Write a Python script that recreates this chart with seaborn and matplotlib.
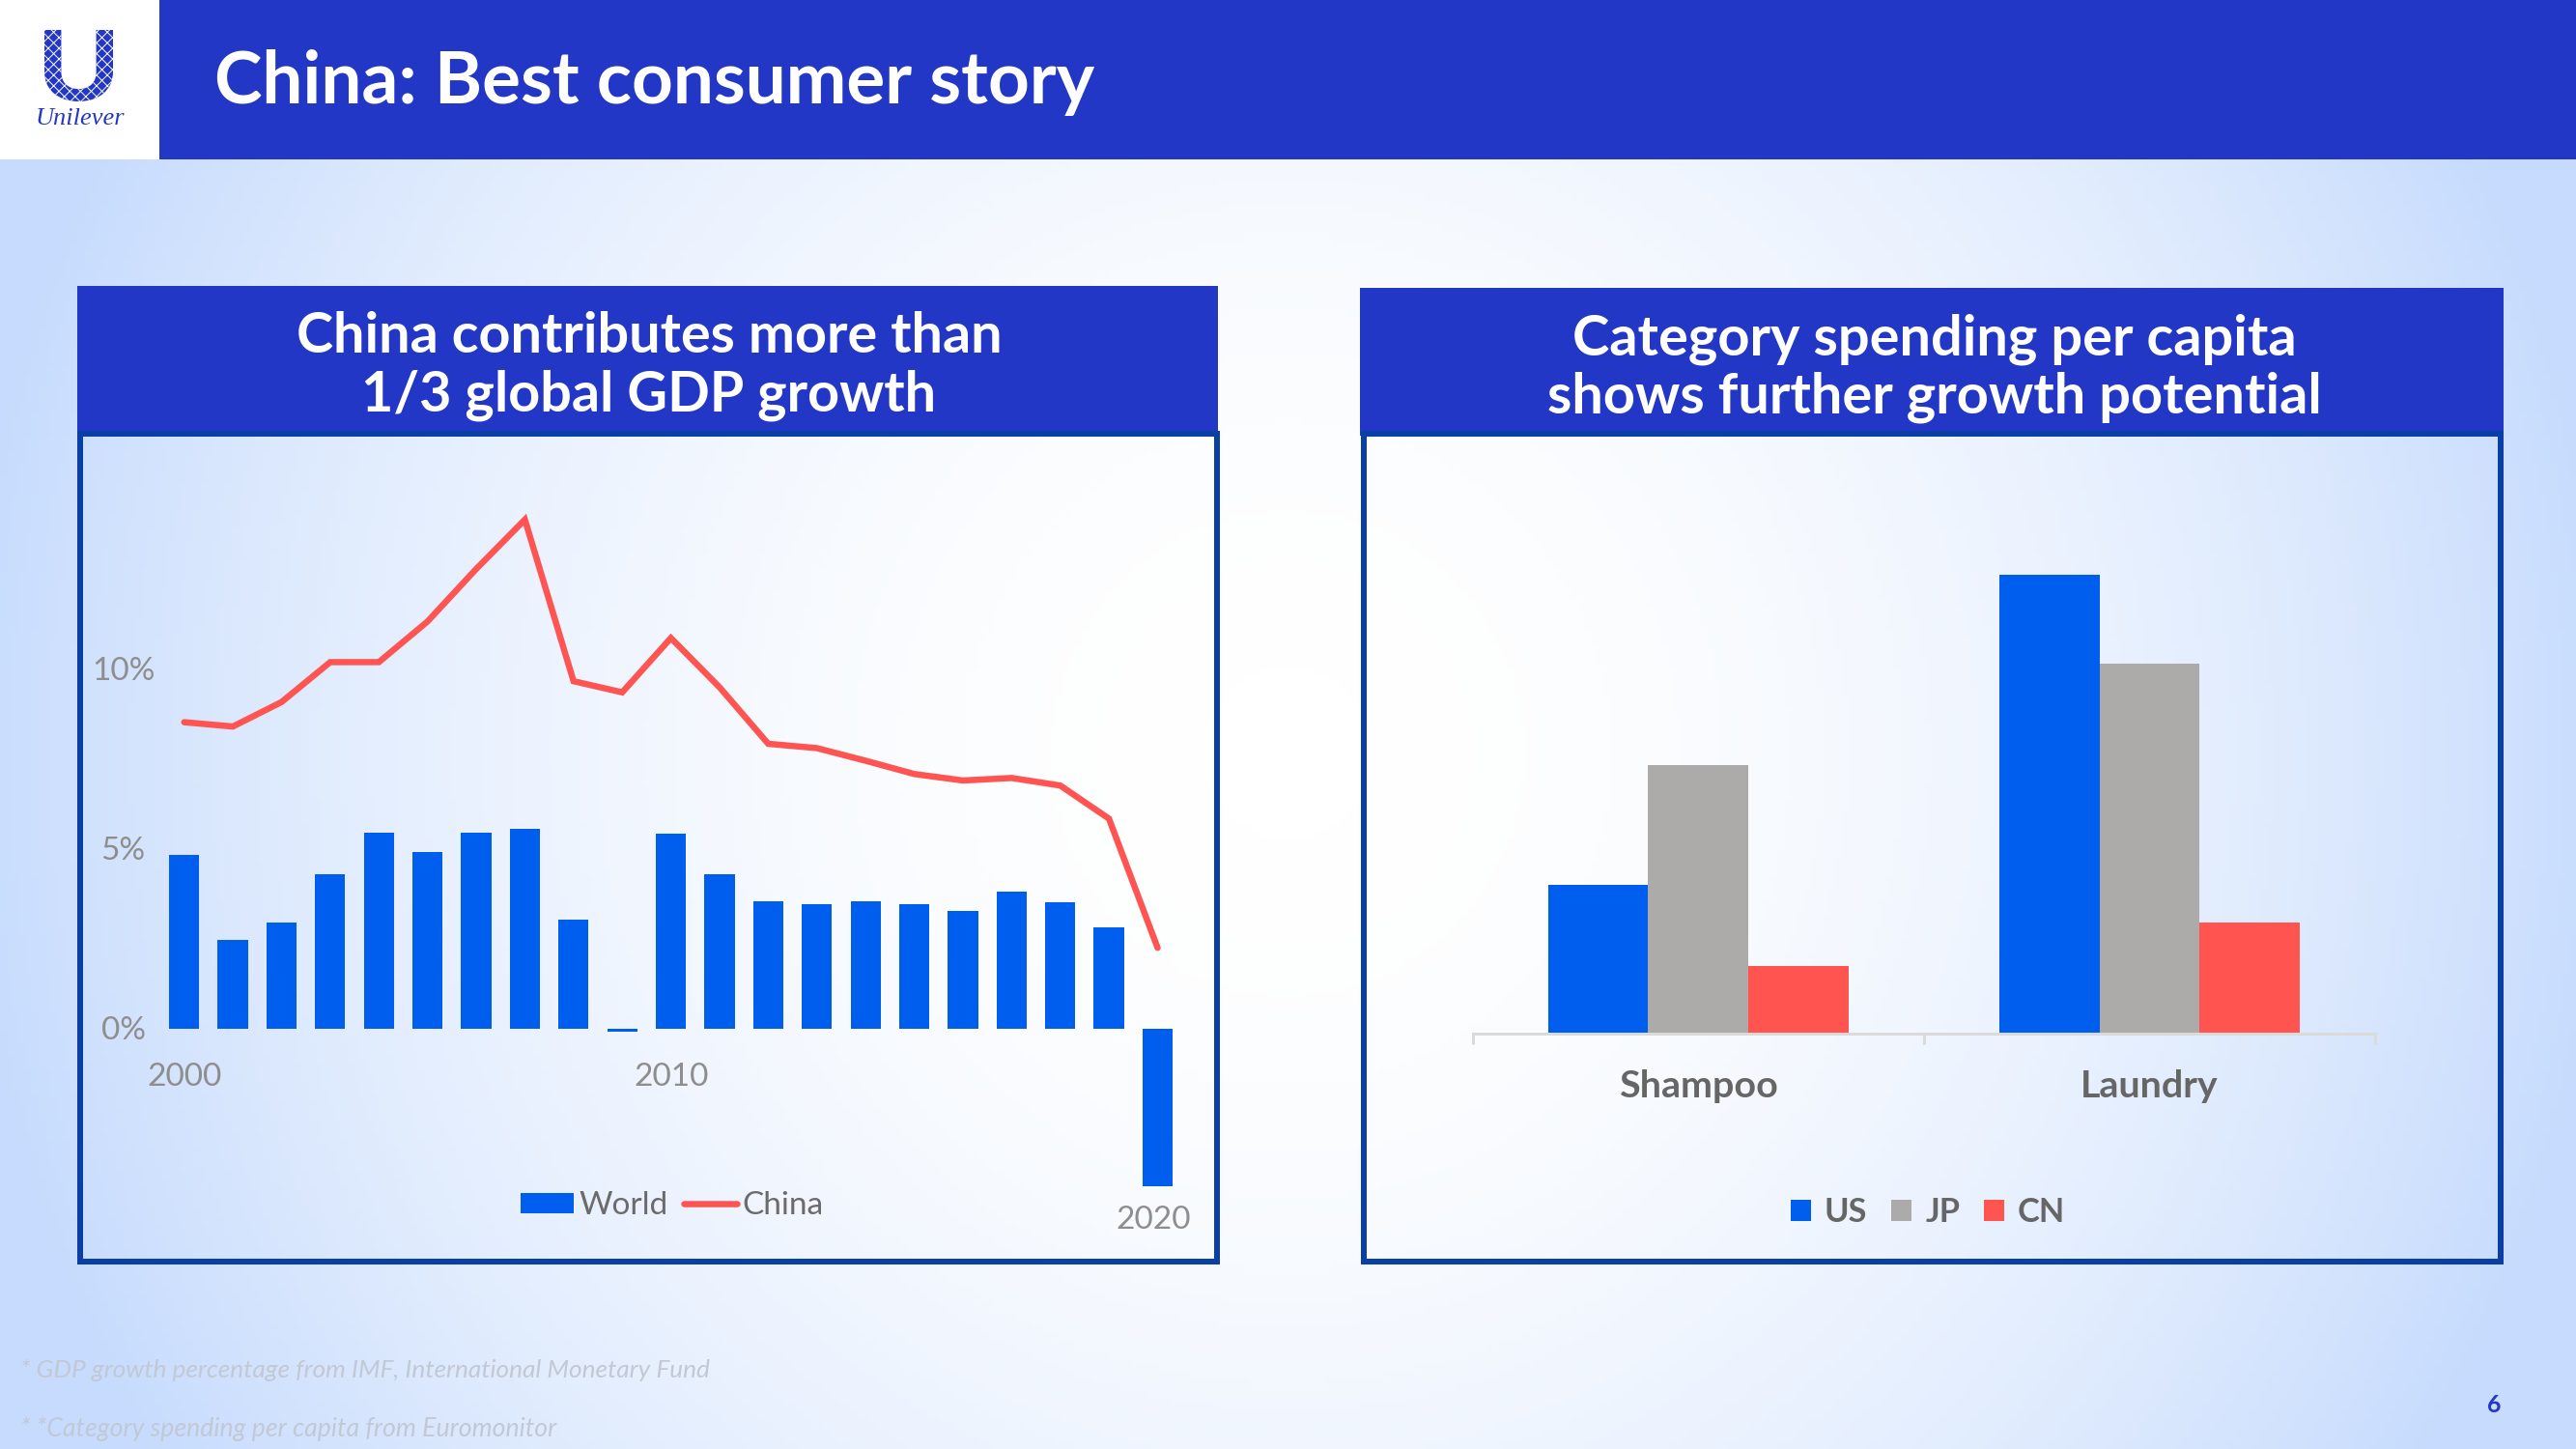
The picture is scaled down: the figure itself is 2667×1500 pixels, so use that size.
import numpy as np
import pandas as pd
import matplotlib
matplotlib.use("Agg")
import matplotlib.pyplot as plt
from matplotlib.colors import LinearSegmentedColormap
from matplotlib.patches import Rectangle, PathPatch
from matplotlib.textpath import TextPath
from matplotlib.font_manager import FontProperties
from matplotlib.transforms import Affine2D, ScaledTranslation
import seaborn as sns

# ---------- data ----------
years = list(range(2000, 2021))
world_growth = [4.83, 2.47, 2.96, 4.30, 5.44, 4.91, 5.46, 5.55, 3.04, -0.08, 5.41,
                4.30, 3.54, 3.46, 3.54, 3.45, 3.27, 3.81, 3.52, 2.81, -4.38]
china_growth = [8.52, 8.40, 9.08, 10.19, 10.19, 11.32, 12.78, 14.15, 9.66, 9.35, 10.86,
                9.49, 7.92, 7.80, 7.45, 7.08, 6.90, 6.97, 6.76, 5.84, 2.25]
y_ticks = [0, 5, 10]
y_tick_labels = ["0%", "5%", "10%"]
categories = ["Shampoo", "Laundry"]
countries = ["US", "JP", "CN"]
us_spend = [15.4, 47.5]
jp_spend = [27.8, 38.3]
cn_spend = [7.0, 11.5]

TITLE = "China: Best consumer story"
LEFT_HEAD = "China contributes more than\n1/3 global GDP growth"
RIGHT_HEAD = "Category spending per capita\nshows further growth potential"
NOTE_1 = "* GDP growth percentage from IMF, International Monetary Fund"
NOTE_2 = "* *Category spending per capita from Euromonitor"

# ---------- style ----------
W, H, DPI = 2667, 1500, 200
PT = 72 / DPI
NAVY = "#2337C6"
FRAME = "#0A3FA6"
BLUE = "#005EEF"
GRAY = "#ADABA9"
RED = "#FF544F"
sns.set_theme(style="white", rc={"axes.facecolor": "none", "hatch.linewidth": 0.35})
plt.rcParams["font.family"] = ["Lato", "DejaVu Sans"]

fig = plt.figure(figsize=(W / DPI, H / DPI), dpi=DPI)


def axes_px(x0, y0, x1, y1, **kw):
    return fig.add_axes([x0 / W, 1 - y1 / H, (x1 - x0) / W, (y1 - y0) / H], **kw)


# ---------- background and slide furniture ----------
bg = axes_px(0, 0, W, H, zorder=0)
gx, gy = np.meshgrid(np.linspace(0, 1, 400), np.linspace(0, 1, 225))
t = np.clip(np.hypot((gx - 0.5) / 0.52, (gy - 0.52) / 0.95), 0, 1) ** 2
cmap = LinearSegmentedColormap.from_list("slide", ["#FFFFFF", "#C6DBFD"])
bg.imshow(t, cmap=cmap, vmin=0, vmax=1, extent=(0, W, H, 0), aspect="auto")
bg.set_xlim(0, W)
bg.set_ylim(H, 0)
bg.axis("off")

bg.add_patch(Rectangle((0, 0), W, 165, color=NAVY, lw=0))
bg.add_patch(Rectangle((0, 0), 165, 165, color="white", lw=0))

for (fx0, fx1), (hx0, hx1), hy0 in [((83, 1260), (80, 1261), 296), ((1412, 2589), (1408, 2592), 298)]:
    bg.add_patch(Rectangle((hx0, hy0), hx1 - hx0, 451 - hy0, color=NAVY, lw=0))
    bg.add_patch(Rectangle((fx0, 449), fx1 - fx0, 857, fill=False, ec=FRAME, lw=6 * PT))

# logo
u_path = TextPath((0, 0), "U", size=103, prop=FontProperties(family="Lato", weight="black"))
ub = u_path.get_extents()
u_tf = Affine2D().translate(-ub.x0, -ub.y0).scale(71 / ub.width, -74 / ub.height).translate(46, 105)
bg.add_patch(PathPatch(u_path, transform=u_tf + bg.transData, fc=NAVY, ec="white", lw=0, hatch="xxxxxx"))
bg.text(83, 123, "Unilever", color=NAVY, fontsize=9.5, style="italic", ha="center", va="center",
        family=["Liberation Serif"])

bg.text(222, 85, TITLE, color="white", fontsize=26.9, fontweight="bold", va="center", ha="left")
bg.text(672, 379, LEFT_HEAD, color="white", fontsize=20.7, fontweight="bold", va="center", ha="center", linespacing=1.16)
bg.text(2003, 381, RIGHT_HEAD, color="white", fontsize=20.8, fontweight="bold", va="center", ha="center", linespacing=1.16)
bg.text(21, 1418, NOTE_1, color="#C2C8D4", fontsize=9.45, style="italic", va="center")
bg.text(21, 1479, NOTE_2, color="#C2C8D4", fontsize=9.6, style="italic", va="center")
bg.text(2582, 1454, "6", color=NAVY, fontsize=9, fontweight="bold", ha="center", va="center")

# ---------- left chart ----------
STEP = 50.39
X0 = 190.7
ZERO = 1065
UNIT = 37.25
AX_T, AX_B = 460, 1300
TICK_SIZE = 12
ax = axes_px(X0 - STEP / 2, AX_T, X0 + 20.5 * STEP, AX_B, zorder=2)
gdp = pd.DataFrame({"year": years, "world": world_growth, "china": china_growth})
sns.barplot(data=gdp, x="year", y="world", native_scale=True, width=0.62, color=BLUE, saturation=1,
            label="World", linewidth=0, ax=ax)
sns.lineplot(data=gdp, x="year", y="china", color="#FF5552", lw=6.5 * PT, label="China", ax=ax,
             errorbar=None, sort=False, solid_joinstyle="miter")
ax.set_xlim(1999.5, 2020.5)
ax.set_ylim((ZERO - AX_B) / UNIT, (ZERO - AX_T) / UNIT)
ax.set_xlabel("")
ax.set_ylabel("")
sns.despine(ax=ax, left=True, bottom=True, top=True, right=True)
ax.set_yticks(y_ticks, y_tick_labels)
ax.set_xticks([2000, 2010], ["2000", "2010"])
ax.set_xticks([2020], ["2020"], minor=True)
ax.tick_params(axis="y", length=0, pad=38 * PT, labelsize=TICK_SIZE, labelcolor="#8E8E8E")
ax.tick_params(axis="x", which="major", length=0, pad=(1115 - AX_B) * PT, labelsize=TICK_SIZE, labelcolor="#8E8E8E")
ax.tick_params(axis="x", which="minor", length=0, pad=(1263 - AX_B) * PT, labelsize=TICK_SIZE, labelcolor="#8E8E8E")
for lab in ax.get_yticklabels():
    lab.set_ha("center")
    lab.set_va("center")
    lab.set_transform(lab.get_transform() + ScaledTranslation(0, -2 / DPI, fig.dpi_scale_trans))
for lab in ax.get_xticklabels():
    lab.set_va("center")
for lab in ax.get_xticklabels(minor=True):
    lab.set_va("center")
    lab.set_transform(lab.get_transform() + ScaledTranslation(-4 / DPI, 0, fig.dpi_scale_trans))
handles, labels = ax.get_legend_handles_labels()
order = [labels.index("World"), labels.index("China")]
ax.legend([handles[i] for i in order], [labels[i] for i in order],
          loc="center", bbox_to_anchor=(696 / W, 1 - 1248 / H), bbox_transform=fig.transFigure, ncol=2,
          frameon=False, fontsize=TICK_SIZE, labelcolor="#6B6B6B", handlelength=1.65, handleheight=0.6,
          handletextpad=0.15, columnspacing=0.5, borderpad=0, borderaxespad=0)

# ---------- right chart ----------
CAT0, CAT1 = 1524.7, 2459
BASE = 1070
TOP = 500
ax2 = axes_px(CAT0, TOP, CAT1, BASE, zorder=2)
spend = pd.DataFrame({
    "category": categories * 3,
    "country": [c for c in countries for _ in categories],
    "value": us_spend + jp_spend + cn_spend,
})
sns.barplot(data=spend, x="category", y="value", hue="country", hue_order=countries, order=categories,
            palette=[BLUE, GRAY, RED], saturation=1, width=0.666, gap=0, linewidth=0, ax=ax2)
ax2.set_xlim(-0.5, 1.5)
ax2.set_ylim(0, (BASE - TOP) / 10)
ax2.set_xlabel("")
ax2.set_ylabel("")
ax2.set_yticks([])
sns.despine(ax=ax2, left=True, top=True, right=True)
ax2.spines["bottom"].set_color("#DADADA")
ax2.spines["bottom"].set_linewidth(3 * PT)
ax2.set_xticks([0, 1], categories)
ax2.set_xticks([-0.5, 0.5, 1.5], minor=True)
ax2.tick_params(axis="x", which="major", length=0, pad=(1125 - BASE) * PT, labelsize=14.2,
                labelcolor="#666666")
ax2.tick_params(axis="x", which="minor", length=11 * PT, width=3 * PT, color="#DADADA", bottom=True)
for lab in ax2.get_xticklabels():
    lab.set_va("center")
    lab.set_fontweight("bold")
ax2.legend(loc="center", bbox_to_anchor=(1996 / W, 1 - 1255 / H), bbox_transform=fig.transFigure, ncol=3,
           frameon=False, labelcolor="#666666", handlelength=0.62, handleheight=0.62,
           handletextpad=0.4, columnspacing=0.72, borderpad=0, borderaxespad=0,
           prop={"weight": "bold", "size": 12.4, "family": ["Lato", "DejaVu Sans"]}, title=None)

fig.savefig("out.png", dpi=DPI)
